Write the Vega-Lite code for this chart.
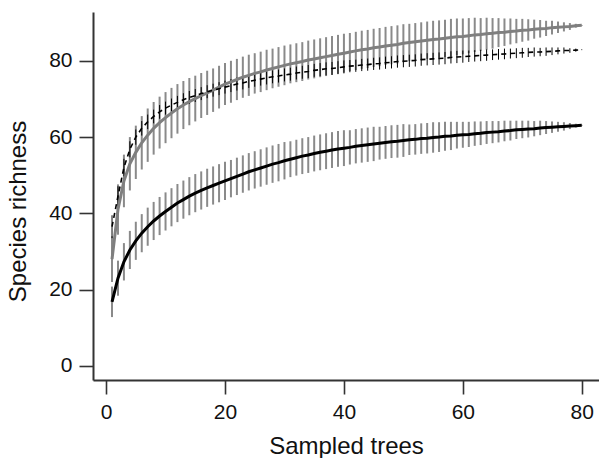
{
"$schema": "https://vega.github.io/schema/vega-lite/v6.json",
"width": 506, "height": 368,
"autosize": {"type": "none"},
"padding": {"left": 93, "top": 12, "right": 0, "bottom": 78},
"background": "white",
"config": {"view": {"stroke": null}, "font": "Liberation Sans"},
"datasets": {
"gray": [
{"x":1,"m":28.0,"e":6.0},{"x":2,"m":41.0,"e":6.6},{"x":3,"m":48.5,"e":6.9},{"x":4,"m":53.0,"e":7.0},{"x":5,"m":56.0,"e":7.0},
{"x":6,"m":58.5,"e":7.0},{"x":7,"m":60.5,"e":7.0},{"x":8,"m":62.3,"e":6.9},{"x":9,"m":63.8,"e":6.8},{"x":10,"m":65.1,"e":6.7},
{"x":11,"m":66.3,"e":6.6},{"x":12,"m":67.4,"e":6.5},{"x":13,"m":68.4,"e":6.3},{"x":14,"m":69.3,"e":6.2},{"x":15,"m":70.1,"e":6.0},
{"x":16,"m":70.9,"e":5.9},{"x":17,"m":71.6,"e":5.8},{"x":18,"m":72.3,"e":5.7},{"x":19,"m":73.1,"e":5.6},{"x":20,"m":73.9,"e":5.5},
{"x":21,"m":74.5,"e":5.5},{"x":22,"m":75.1,"e":5.4},{"x":23,"m":75.7,"e":5.4},{"x":24,"m":76.2,"e":5.4},{"x":25,"m":76.7,"e":5.3},
{"x":26,"m":77.1,"e":5.3},{"x":27,"m":77.6,"e":5.3},{"x":28,"m":78.0,"e":5.2},{"x":29,"m":78.4,"e":5.2},{"x":30,"m":78.8,"e":5.2},
{"x":31,"m":79.2,"e":5.1},{"x":32,"m":79.5,"e":5.1},{"x":33,"m":79.8,"e":5.1},{"x":34,"m":80.2,"e":5.1},{"x":35,"m":80.5,"e":5.1},
{"x":36,"m":80.8,"e":5.1},{"x":37,"m":81.1,"e":5.1},{"x":38,"m":81.4,"e":5.1},{"x":39,"m":81.7,"e":5.1},{"x":40,"m":82.0,"e":5.1},
{"x":41,"m":82.3,"e":5.0},{"x":42,"m":82.6,"e":5.0},{"x":43,"m":82.9,"e":5.0},{"x":44,"m":83.1,"e":5.0},{"x":45,"m":83.4,"e":5.0},
{"x":46,"m":83.6,"e":5.0},{"x":47,"m":83.9,"e":5.0},{"x":48,"m":84.1,"e":5.0},{"x":49,"m":84.3,"e":5.0},{"x":50,"m":84.6,"e":5.0},
{"x":51,"m":84.8,"e":4.9},{"x":52,"m":85.0,"e":4.9},{"x":53,"m":85.2,"e":4.9},{"x":54,"m":85.4,"e":4.9},{"x":55,"m":85.6,"e":4.9},
{"x":56,"m":85.7,"e":4.9},{"x":57,"m":85.9,"e":4.9},{"x":58,"m":86.1,"e":4.9},{"x":59,"m":86.3,"e":4.8},{"x":60,"m":86.4,"e":4.7},
{"x":61,"m":86.6,"e":4.6},{"x":62,"m":86.8,"e":4.5},{"x":63,"m":86.9,"e":4.3},{"x":64,"m":87.1,"e":4.2},{"x":65,"m":87.2,"e":4.0},
{"x":66,"m":87.4,"e":3.8},{"x":67,"m":87.5,"e":3.6},{"x":68,"m":87.7,"e":3.4},{"x":69,"m":87.8,"e":3.2},{"x":70,"m":88.0,"e":3.0},
{"x":71,"m":88.1,"e":2.8},{"x":72,"m":88.3,"e":2.5},{"x":73,"m":88.4,"e":2.3},{"x":74,"m":88.5,"e":2.0},{"x":75,"m":88.7,"e":1.8},
{"x":76,"m":88.8,"e":1.5},{"x":77,"m":88.9,"e":1.2},{"x":78,"m":89.0,"e":0.9},{"x":79,"m":89.2,"e":0.5},{"x":80,"m":89.3,"e":0.1}
],
"black": [
{"x":1,"m":16.8,"e":4.0},{"x":2,"m":23.0,"e":4.6},{"x":3,"m":27.3,"e":4.9},{"x":4,"m":30.4,"e":5.0},{"x":5,"m":32.8,"e":5.0},
{"x":6,"m":34.8,"e":5.0},{"x":7,"m":36.5,"e":5.0},{"x":8,"m":38.0,"e":5.0},{"x":9,"m":39.3,"e":5.0},{"x":10,"m":40.5,"e":5.0},
{"x":11,"m":41.6,"e":5.0},{"x":12,"m":42.7,"e":5.0},{"x":13,"m":43.6,"e":5.0},{"x":14,"m":44.5,"e":5.0},{"x":15,"m":45.3,"e":5.0},
{"x":16,"m":46.0,"e":5.0},{"x":17,"m":46.7,"e":5.0},{"x":18,"m":47.3,"e":5.0},{"x":19,"m":47.9,"e":5.0},{"x":20,"m":48.5,"e":5.0},
{"x":21,"m":49.1,"e":4.9},{"x":22,"m":49.7,"e":4.9},{"x":23,"m":50.3,"e":4.9},{"x":24,"m":50.9,"e":4.9},{"x":25,"m":51.4,"e":4.9},
{"x":26,"m":51.9,"e":4.9},{"x":27,"m":52.4,"e":4.9},{"x":28,"m":52.9,"e":4.9},{"x":29,"m":53.3,"e":4.9},{"x":30,"m":53.8,"e":4.9},
{"x":31,"m":54.2,"e":4.7},{"x":32,"m":54.6,"e":4.7},{"x":33,"m":55.0,"e":4.7},{"x":34,"m":55.3,"e":4.7},{"x":35,"m":55.7,"e":4.7},
{"x":36,"m":56.0,"e":4.7},{"x":37,"m":56.3,"e":4.7},{"x":38,"m":56.6,"e":4.7},{"x":39,"m":56.9,"e":4.7},{"x":40,"m":57.1,"e":4.7},
{"x":41,"m":57.3,"e":4.5},{"x":42,"m":57.6,"e":4.5},{"x":43,"m":57.8,"e":4.5},{"x":44,"m":58.0,"e":4.5},{"x":45,"m":58.2,"e":4.5},
{"x":46,"m":58.4,"e":4.3},{"x":47,"m":58.6,"e":4.3},{"x":48,"m":58.8,"e":4.3},{"x":49,"m":58.9,"e":4.3},{"x":50,"m":59.1,"e":4.3},
{"x":51,"m":59.3,"e":4.0},{"x":52,"m":59.4,"e":4.0},{"x":53,"m":59.6,"e":4.0},{"x":54,"m":59.7,"e":4.0},{"x":55,"m":59.9,"e":4.0},
{"x":56,"m":60.0,"e":3.9},{"x":57,"m":60.2,"e":3.8},{"x":58,"m":60.3,"e":3.7},{"x":59,"m":60.5,"e":3.5},{"x":60,"m":60.6,"e":3.4},
{"x":61,"m":60.7,"e":3.3},{"x":62,"m":60.9,"e":3.2},{"x":63,"m":61.0,"e":3.1},{"x":64,"m":61.2,"e":3.0},{"x":65,"m":61.3,"e":2.9},
{"x":66,"m":61.4,"e":2.8},{"x":67,"m":61.6,"e":2.7},{"x":68,"m":61.7,"e":2.6},{"x":69,"m":61.9,"e":2.4},{"x":70,"m":62.0,"e":2.3},
{"x":71,"m":62.1,"e":2.2},{"x":72,"m":62.2,"e":2.0},{"x":73,"m":62.4,"e":1.9},{"x":74,"m":62.5,"e":1.7},{"x":75,"m":62.6,"e":1.5},
{"x":76,"m":62.7,"e":1.3},{"x":77,"m":62.8,"e":1.1},{"x":78,"m":62.9,"e":0.8},{"x":79,"m":63.0,"e":0.5},{"x":80,"m":63.1,"e":0.1}
],
"dash": [
{"x":1,"m":36.5,"e":3.0},{"x":2,"m":44.5,"e":2.6},{"x":3,"m":52.0,"e":2.3},{"x":4,"m":56.8,"e":2.1},{"x":5,"m":60.0,"e":2.0},
{"x":6,"m":62.3,"e":1.9},{"x":7,"m":64.0,"e":1.9},{"x":8,"m":65.4,"e":1.8},{"x":9,"m":66.6,"e":1.8},{"x":10,"m":67.6,"e":1.7},
{"x":11,"m":68.4,"e":1.7},{"x":12,"m":69.1,"e":1.7},{"x":13,"m":69.8,"e":1.7},{"x":14,"m":70.4,"e":1.7},{"x":15,"m":70.9,"e":1.7},
{"x":16,"m":71.4,"e":1.7},{"x":17,"m":71.9,"e":1.7},{"x":18,"m":72.3,"e":1.7},{"x":19,"m":72.7,"e":1.7},{"x":20,"m":73.1,"e":1.7},
{"x":21,"m":73.5,"e":1.7},{"x":22,"m":73.9,"e":1.7},{"x":23,"m":74.2,"e":1.7},{"x":24,"m":74.6,"e":1.7},{"x":25,"m":74.9,"e":1.7},
{"x":26,"m":75.2,"e":1.7},{"x":27,"m":75.5,"e":1.7},{"x":28,"m":75.8,"e":1.7},{"x":29,"m":76.0,"e":1.7},{"x":30,"m":76.3,"e":1.7},
{"x":31,"m":76.5,"e":1.7},{"x":32,"m":76.8,"e":1.7},{"x":33,"m":77.0,"e":1.7},{"x":34,"m":77.2,"e":1.7},{"x":35,"m":77.5,"e":1.7},
{"x":36,"m":77.7,"e":1.7},{"x":37,"m":77.9,"e":1.7},{"x":38,"m":78.0,"e":1.7},{"x":39,"m":78.2,"e":1.7},{"x":40,"m":78.4,"e":1.7},
{"x":41,"m":78.6,"e":1.6},{"x":42,"m":78.7,"e":1.6},{"x":43,"m":78.9,"e":1.6},{"x":44,"m":79.0,"e":1.6},{"x":45,"m":79.2,"e":1.6},
{"x":46,"m":79.3,"e":1.6},{"x":47,"m":79.5,"e":1.6},{"x":48,"m":79.6,"e":1.6},{"x":49,"m":79.8,"e":1.6},{"x":50,"m":79.9,"e":1.6},
{"x":51,"m":80.0,"e":1.6},{"x":52,"m":80.1,"e":1.6},{"x":53,"m":80.3,"e":1.6},{"x":54,"m":80.4,"e":1.6},{"x":55,"m":80.5,"e":1.6},
{"x":56,"m":80.6,"e":1.6},{"x":57,"m":80.7,"e":1.6},{"x":58,"m":80.9,"e":1.6},{"x":59,"m":81.0,"e":1.6},{"x":60,"m":81.1,"e":1.6},
{"x":61,"m":81.2,"e":1.5},{"x":62,"m":81.3,"e":1.5},{"x":63,"m":81.4,"e":1.5},{"x":64,"m":81.5,"e":1.5},{"x":65,"m":81.6,"e":1.4},
{"x":66,"m":81.7,"e":1.4},{"x":67,"m":81.8,"e":1.4},{"x":68,"m":81.9,"e":1.3},{"x":69,"m":82.0,"e":1.3},{"x":70,"m":82.1,"e":1.3},
{"x":71,"m":82.2,"e":1.2},{"x":72,"m":82.3,"e":1.2},{"x":73,"m":82.3,"e":1.1},{"x":74,"m":82.4,"e":1.1},{"x":75,"m":82.5,"e":1.0},
{"x":76,"m":82.6,"e":0.9},{"x":77,"m":82.7,"e":0.8},{"x":78,"m":82.7,"e":0.6},{"x":79,"m":82.8,"e":0.4},{"x":80,"m":82.9,"e":0.1}
]
},
"encoding": {
"x": {"field": "x", "type": "quantitative",
 "scale": {"domain": [-2.2, 82.9], "nice": false, "zero": false},
 "axis": {"title": "Sampled trees", "values": [0, 20, 40, 60, 80], "grid": false,
  "domainColor": "#333333", "domainWidth": 2, "tickColor": "#333333", "tickWidth": 1.6, "tickSize": 14,
  "labelFont": "Liberation Sans", "labelFontSize": 21, "labelColor": "#111111", "labelPadding": 7,
  "titleFont": "Liberation Sans", "titleFontSize": 24, "titleFontWeight": "normal", "titleColor": "#111111",
  "titleY": 73, "titleBaseline": "alphabetic"}},
"y": {"field": "m", "type": "quantitative",
 "scale": {"domain": [-3.7, 92.8], "nice": false, "zero": false},
 "axis": {"title": "Species richness", "values": [0, 20, 40, 60, 80], "grid": false,
  "domainColor": "#333333", "domainWidth": 2, "tickColor": "#333333", "tickWidth": 1.6, "tickSize": 14,
  "labelFont": "Liberation Sans", "labelFontSize": 21, "labelColor": "#111111", "labelPadding": 7,
  "titleFont": "Liberation Sans", "titleFontSize": 24, "titleFontWeight": "normal", "titleColor": "#111111",
  "titleX": -68, "titleY": 199, "titleAngle": 270, "titleAlign": "center", "titleBaseline": "alphabetic"}}
},
"layer": [
{"data": {"name": "gray"}, "mark": {"type": "errorbar", "color": "#8a8a8a", "thickness": 2}, "encoding": {"yError": {"field": "e"}}},
{"data": {"name": "black"}, "mark": {"type": "errorbar", "color": "#8a8a8a", "thickness": 2}, "encoding": {"yError": {"field": "e"}}},
{"data": {"name": "dash"}, "mark": {"type": "errorbar", "color": "#000000", "thickness": 1}, "encoding": {"yError": {"field": "e"}}},
{"data": {"name": "gray"}, "mark": {"type": "line", "color": "#7f7f7f", "strokeWidth": 3}},
{"data": {"name": "black"}, "mark": {"type": "line", "color": "#000000", "strokeWidth": 3}},
{"data": {"name": "dash"}, "mark": {"type": "line", "color": "#000000", "strokeWidth": 1.6, "strokeDash": [5, 4]}}
]
}
